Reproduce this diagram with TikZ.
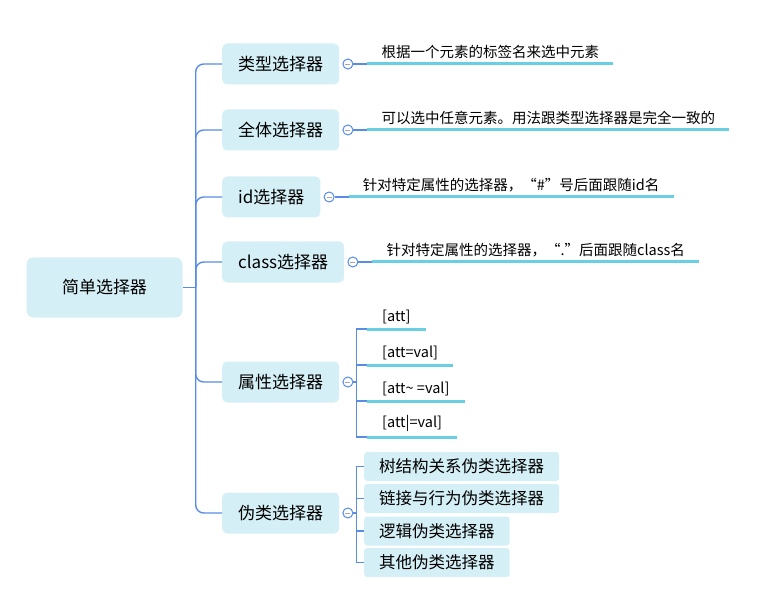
\documentclass[tikz,border=0pt]{standalone}
\usepackage{fontspec}
\setmainfont{Noto Sans CJK SC}
\usetikzlibrary{positioning}
\definecolor{linkblue}{RGB}{88,140,230}
\definecolor{boxfill}{RGB}{212,239,245}
\definecolor{linecyan}{RGB}{104,208,226}
\tikzset{
  root/.style={fill=boxfill, rounded corners=7pt, minimum width=156pt, minimum height=60pt, font=\fontsize{17}{20}\selectfont},
  topic/.style={fill=boxfill, rounded corners=5pt, inner xsep=16pt, minimum height=41pt, anchor=west, font=\fontsize{17}{20}\selectfont},
  subtopic/.style={fill=boxfill, rounded corners=3pt, inner xsep=15pt, minimum height=29pt, anchor=west, font=\fontsize{16.5}{19}\selectfont},
  desc/.style={anchor=south west, inner xsep=14pt, inner ysep=5pt, font=\fontsize{14.5}{17}\selectfont},
  fold/.style={circle, draw=linkblue, fill=white, line width=1pt, minimum size=10pt, inner sep=0pt,
    path picture={\draw [gray!70, line width=0.8pt] ([xshift=-2.5pt]path picture bounding box.center) -- ([xshift=2.5pt]path picture bounding box.center);}},
  branch/.style={draw=linkblue, line width=1.4pt},
  trunk/.style={branch, rounded corners=8pt},
  underline/.style={draw=linecyan, line width=3pt}
}
\begin{document}
\begin{tikzpicture}[x=1pt, y=-1pt]
\useasboundingbox (0,0) rectangle (764,591);
	% root and main topics
\node [root] (root) at (104.5,287.5) {简单选择器};
\node [topic] (t1) at (222,64) {类型选择器};
\node [topic] (t2) at (222,130) {全体选择器};
\node [topic] (t3) at (222,197) {id选择器};
\node [topic] (t4) at (222,262) {class选择器};
\node [topic] (t5) at (222,382) {属性选择器};
\node [topic] (t6) at (222,513) {伪类选择器};
\coordinate [right=13pt of root.east] (hub);
\draw [branch] (root.east) -- (hub);
\draw [trunk] (hub) |- (t1.west);
\draw [trunk] (hub) |- (t2.west);
\draw [trunk] (hub) |- (t3.west);
\draw [trunk] (hub) |- (t4.west);
\draw [trunk] (hub) |- (t5.west);
\draw [trunk] (hub) |- (t6.west);
\node [fold, right=3pt of t1] (f1) {};
\node [fold, right=3pt of t2] (f2) {};
\node [fold, right=3pt of t3] (f3) {};
\node [fold, right=3pt of t4] (f4) {};
\node [fold, right=3pt of t5] (f5) {};
\node [fold, right=3pt of t6] (f6) {};

	% descriptions
\node [desc] (d1) at ([xshift=14pt]f1.east) {根据一个元素的标签名来选中元素};
\node [desc] (d2) at ([xshift=14pt]f2.east) {可以选中任意元素。用法跟类型选择器是完全一致的};
\node [desc] (d3) at ([xshift=14pt]f3.east) {针对特定属性的选择器，“\#”号后面跟随id名};
\node [desc] (d4) at ([xshift=14pt]f4.east) {针对特定属性的选择器，“.”后面跟随class名};
\draw [branch] (f1.east) -- (d1.south west);
\draw [branch] (f2.east) -- (d2.south west);
\draw [branch] (f3.east) -- (d3.south west);
\draw [branch] (f4.east) -- (d4.south west);
\draw [underline] (d1.south west) -- (d1.south east);
\draw [underline] (d2.south west) -- (d2.south east);
\draw [underline] (d3.south west) -- (d3.south east);
\draw [underline] (d4.south west) -- (d4.south east);

	% attribute selectors
\coordinate [right=3pt of f5.east] (b5);
\node [desc, inner xsep=15pt] (a1) at (367,329) {[att]};
\node [desc, inner xsep=15pt] (a2) at (367,365) {[att=val]};
\node [desc, inner xsep=15pt] (a3) at (367,401) {[att\textasciitilde{} =val]};
\node [desc, inner xsep=15pt] (a4) at (367,437) {[att|=val]};
\draw [branch] (f5.east) -- (b5);
\draw [branch] (b5) |- (a1.south west);
\draw [branch] (b5) |- (a2.south west);
\draw [branch] (b5) |- (a3.south west);
\draw [branch] (b5) |- (a4.south west);
\draw [underline] (a1.south west) -- (a1.south east);
\draw [underline] (a2.south west) -- (a2.south east);
\draw [underline] (a3.south west) -- (a3.south east);
\draw [underline] (a4.south west) -- (a4.south east);

	% pseudo-class selectors
\coordinate [right=3pt of f6.east] (b6);
\node [subtopic] (p1) at (364,466.5) {树结构关系伪类选择器};
\node [subtopic] (p2) at (364,498.5) {链接与行为伪类选择器};
\node [subtopic] (p3) at (364,531) {逻辑伪类选择器};
\node [subtopic] (p4) at (364,562.5) {其他伪类选择器};
\draw [branch] (f6.east) -- (b6);
\draw [branch] (b6) |- (p1.west);
\draw [branch] (b6) |- (p2.west);
\draw [branch] (b6) |- (p3.west);
\draw [branch] (b6) |- (p4.west);
\end{tikzpicture}
\end{document}
